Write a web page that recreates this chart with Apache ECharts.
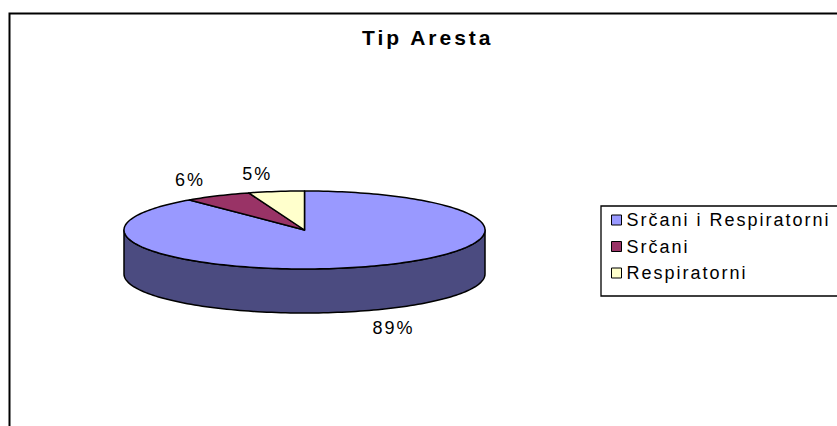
<!DOCTYPE html>
<html>
<head>
<meta charset="utf-8">
<title>Tip Aresta</title>
<script src="https://cdn.jsdelivr.net/npm/echarts@6.0.0/dist/echarts.min.js"></script>
<style>
  html, body { margin: 0; padding: 0; background: #ffffff; }
  #chart { width: 837px; height: 426px; }
  /* wide tracking, as in the office-style chart text */
  #chart text { letter-spacing: 2px; }
  #chart text[style*="bold"], #chart text[font-weight="bold"] { letter-spacing: 3px; }
</style>
</head>
<body>
<div id="chart"></div>
<script>
// Arrest type shares
const categories = ['Srčani i Respiratorni', 'Srčani', 'Respiratorni'];
const values = [89, 6, 5];
const topColors = ['#9999FF', '#993366', '#FFFFCC'];
const sideColors = ['#4B4B80', '#4D1A33', '#808066'];

const FONT = '"Liberation Sans", Arial, sans-serif';

// 3D pie geometry (top ellipse and wall height)
const PIE = { cx: 304.5, cy: 230, rx: 180.5, ry: 39, depth: 44 };

const total = values.reduce((a, b) => a + b, 0);
const startFrac = values.map((v, i) => values.slice(0, i).reduce((a, b) => a + b, 0) / total);

// angle measured clockwise from 12 o'clock
function pt(theta, dy) {
  return [PIE.cx + PIE.rx * Math.sin(theta), PIE.cy - PIE.ry * Math.cos(theta) + (dy || 0)];
}
function arc(a, b, dy) {
  const n = Math.max(2, Math.ceil(Math.abs(b - a) / (Math.PI / 120)));
  const out = [];
  for (let k = 0; k <= n; k++) out.push(pt(a + (b - a) * k / n, dy));
  return out;
}

function renderSlice(params, api) {
  const i = params.seriesIndex;
  const v = api.value(0);
  const a0 = startFrac[i] * Math.PI * 2;
  const a1 = a0 + v / total * Math.PI * 2;
  const children = [];

  // front wall: only the part of the rim facing the viewer
  const s = Math.max(a0, Math.PI / 2), e = Math.min(a1, Math.PI * 1.5);
  if (s < e) {
    const wall = arc(s, e, 0).concat(arc(e, s, PIE.depth));
    children.push({
      type: 'polygon', z2: 1,
      shape: { points: wall },
      style: { fill: sideColors[i], stroke: '#000', lineWidth: 1.5, lineJoin: 'round' }
    });
  }

  // top face
  children.push({
    type: 'polygon', z2: 2,
    shape: { points: [[PIE.cx, PIE.cy]].concat(arc(a0, a1, 0)) },
    style: { fill: topColors[i], stroke: '#000', lineWidth: 1.5, lineJoin: 'round' }
  });

  // percentage label outside the rim
  const mid = (a0 + a1) / 2;
  const sn = Math.sin(mid), cs = Math.cos(mid);
  const p = pt(mid, cs < 0 ? PIE.depth : 0);
  children.push({
    type: 'text', z2: 3,
    style: {
      text: Math.round(v / total * 100) + '%',
      x: p[0] + sn * 26 + (sn < 0 ? 0 : -2),
      y: p[1] - cs * 18,
      align: sn < 0 ? 'right' : 'left',
      verticalAlign: 'middle',
      font: '18px ' + FONT,
      fill: '#000'
    }
  });
  return { type: 'group', children: children };
}

const chart = echarts.init(document.getElementById('chart'), null, { renderer: 'svg' });

chart.setOption({
  animation: false,
  backgroundColor: '#ffffff',
  color: topColors,
  title: {
    text: 'Tip Aresta',
    left: 362,
    top: 27,
    padding: 0,
    textStyle: { fontFamily: FONT, fontSize: 21, fontWeight: 'bold', color: '#000' }
  },
  legend: {
    orient: 'vertical',
    left: 601,
    top: 206,
    padding: [5, 110, 14, 10],
    itemGap: 8.5,
    itemWidth: 10,
    itemHeight: 10,
    icon: 'rect',
    selectedMode: false,
    borderColor: '#000',
    borderWidth: 1.3,
    itemStyle: { borderColor: '#000', borderWidth: 1 },
    textStyle: { fontFamily: FONT, fontSize: 18, color: '#000', padding: [0, 0, 0, 0] },
    data: categories
  },
  graphic: [{
    type: 'rect',
    silent: true,
    shape: { x: 9.5, y: 13.5, width: 900, height: 500 },
    style: { fill: 'none', stroke: '#000', lineWidth: 2 }
  }],
  series: categories.map((name, i) => ({
    type: 'custom',
    name: name,
    coordinateSystem: 'none',
    itemStyle: { color: topColors[i] },
    renderItem: renderSlice,
    data: [[values[i]]]
  }))
});
</script>
</body>
</html>
